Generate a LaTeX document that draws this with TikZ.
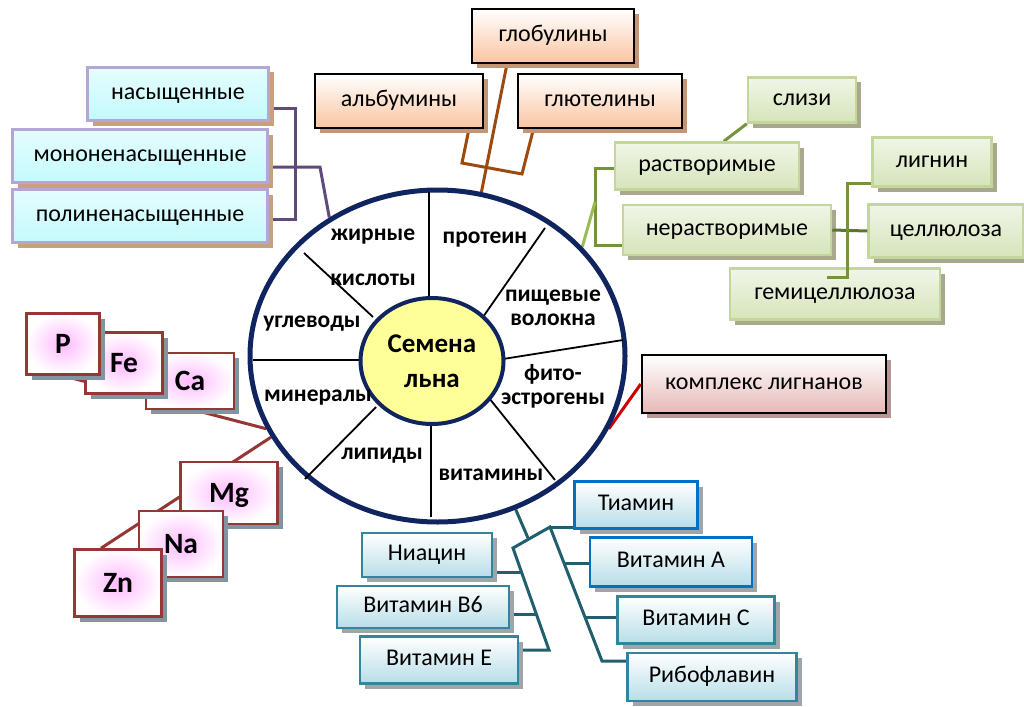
\documentclass[tikz,border=0pt]{standalone}
\usepackage{fontspec}
\setmainfont{Carlito}
\usetikzlibrary{shapes.geometric,shadows,calc,backgrounds}

\definecolor{ringblue}{RGB}{16,36,96}
\definecolor{seedyellow}{RGB}{255,255,153}
\definecolor{fatline}{RGB}{94,75,122}
\definecolor{fatborder}{RGB}{180,167,214}
\definecolor{fatfill}{RGB}{196,250,252}
\definecolor{fatshadow}{RGB}{200,160,125}
\definecolor{protline}{RGB}{156,74,16}
\definecolor{protfill}{RGB}{250,196,160}
\definecolor{protshadow}{RGB}{196,150,118}
\definecolor{fibline}{RGB}{118,146,60}
\definecolor{fibstem}{RGB}{155,187,89}
\definecolor{fibborder}{RGB}{195,214,155}
\definecolor{fibfill}{RGB}{214,228,186}
\definecolor{fibshadow}{RGB}{168,168,140}
\definecolor{minline}{RGB}{149,55,53}
\definecolor{minfill}{RGB}{255,185,255}
\definecolor{minshadow}{RGB}{127,150,160}
\definecolor{vitline}{RGB}{33,95,110}
\definecolor{vitborder}{RGB}{49,133,156}
\definecolor{vitblue}{RGB}{0,112,192}
\definecolor{vitfill}{RGB}{183,221,232}
\definecolor{vitshadow}{RGB}{160,165,170}
\definecolor{lgnfill}{RGB}{230,184,183}
\definecolor{lgnshadow}{RGB}{185,150,150}

\tikzset{
  box/.style={draw, line width=2.5pt, inner sep=0pt, text height=16.5pt, text depth=5.5pt,
    font=\fontsize{24}{26}\selectfont},
  fatbox/.style={box, draw=fatborder, top color=fatfill!45, bottom color=fatfill,
    drop shadow={fill=fatshadow, opacity=1, shadow xshift=5pt, shadow yshift=-5pt}},
  protbox/.style={box, draw=black, top color=white, bottom color=protfill,
    drop shadow={fill=protshadow, opacity=1, shadow xshift=5pt, shadow yshift=-5pt}},
  fibbox/.style={box, draw=fibborder, top color=fibfill!35, bottom color=fibfill,
    drop shadow={fill=fibshadow, opacity=1, shadow xshift=5pt, shadow yshift=-5pt}},
  minbox/.style={box, draw=minline, inner color=minfill, outer color=white,
    text height=22pt, text depth=3pt, font=\fontsize{29.5}{31}\selectfont\bfseries,
    drop shadow={fill=minshadow, opacity=1, shadow xshift=5pt, shadow yshift=-5pt}},
  vitbox/.style={box, draw=vitborder, top color=white, bottom color=vitfill,
    drop shadow={fill=vitshadow, opacity=1, shadow xshift=5pt, shadow yshift=-5pt}},
  lgnbox/.style={box, draw=black, top color=white, bottom color=lgnfill,
    drop shadow={fill=lgnshadow, opacity=1, shadow xshift=5pt, shadow yshift=-5pt}},
  sector/.style={font=\fontsize{23.5}{24}\selectfont\bfseries, align=center, inner sep=0pt},
  spoke/.style={line width=1.8pt},
  link/.style={line width=3pt}
}

\begin{document}
\begin{tikzpicture}[x=1pt,y=-1pt]
\useasboundingbox (0,0) rectangle (1024,706);

\node[ellipse, draw=ringblue, line width=5pt, minimum width=375pt, minimum height=332pt] (ring) at (437.5,356) {};
\foreach \xa/\ya/\xb/\yb in {429/298/429/192, 483/317/545/228, 503/359/623/340, 489/398/555/480,
    431/423/431/517, 376/407/305/479, 359/360/253/360, 373/317/304/253}
  \draw[spoke] (\xa,\ya) -- (\xb,\yb);
\node[ellipse, draw=ringblue, line width=4pt, fill=seedyellow, minimum width=143pt, minimum height=126pt,
  align=center, inner sep=0pt, font=\fontsize{27}{35}\selectfont\bfseries] (seed) at (432,361) {Семена\\льна};

\foreach \n/\x/\y/\t in {fat1/373/237/жирные, fat2/373/280/кислоты, prot/485/240/протеин,
    vit/491/475/витамины, lip/382/456/липиды, mins/318/398/минералы, carb/312/324/углеводы}
  \node[sector] (\n) at (\x,\y) {\t};
\node[sector] (fib) at (553,308) {пищевые\\волокна};
\node[sector] (phyto) at (553,386) {фито-\\эстрогены};

\foreach \n/\x/\y/\w/\t in {sat/178/94/181/насыщенные, mono/140/156/255/мононенасыщенные,
    poly/140/216/255/полиненасыщенные}
  \node[fatbox, minimum width=\w pt, minimum height=53pt] (\n) at (\x,\y) {\t};

\foreach \n/\x/\y/\w/\t in {glob/553/36/162/глобулины, alb/399/101/168/альбумины, glut/600/101/164/глютелины}
  \node[protbox, minimum width=\w pt, minimum height=54pt] (\n) at (\x,\y) {\t};

\foreach \n/\x/\y/\w/\h/\t in {sliz/802/100/108/45/слизи, sol/707/166/184/47/растворимые,
    insol/727/230/208/50/нерастворимые, lignin/932/162/119/49/лигнин,
    cell/946/231/155/53/целлюлоза, hemi/835/294/210/51/гемицеллюлоза}
  \node[fibbox, minimum width=\w pt, minimum height=\h pt] (\n) at (\x,\y) {\t};

\foreach \n/\x/\y/\w/\h/\t in {ca/190/381/88/56/Ca, fe/124/363/77/61/Fe, p/63/344/73/61/P,
    mg/229/493/97/62/Mg, na/181/544/84/66/Na, zn/118/583/87/67/Zn}
  \node[minbox, minimum width=\w pt, minimum height=\h pt] (\n) at (\x,\y) {\t};

\foreach \n/\x/\y/\w/\h/\c/\t in {tiamin/636/505/123/47/vitblue/Тиамин, vita/671/562/162/49/vitblue/Витамин А,
    vitc/696/620/157/47/vitborder/Витамин С, ribo/712/677/169/48/vitborder/Рибофлавин,
    niacin/427/555/130/44/vitborder/Ниацин, vitb/423/607/172/42/vitborder/Витамин В6,
    vite/439/660/158/47/vitborder/Витамин Е}
  \node[vitbox, draw=\c, minimum width=\w pt, minimum height=\h pt] (\n) at (\x,\y) {\t};

\node[lgnbox, minimum width=244pt, minimum height=58pt] (lgn) at (764,384) {комплекс лигнанов};

\coordinate (fa) at (295,109);
\coordinate (fz) at (295,219);
\coordinate (fm) at (320,167);
\coordinate (pa) at (462,163);
\coordinate (pb) at (522,174);
\coordinate (fu) at (595,168);
\coordinate (fd) at (595,245);
\coordinate (fs) at (595,202);
\coordinate (ft) at (847,183);
\coordinate (fv) at (847,277);
\coordinate (fh) at ($(hemi.north west)!0.46!(hemi.north east)$);
\coordinate (vs) at (528,538);
\coordinate (va) at (513,548);
\coordinate (vb) at (550,527);
\coordinate (vl) at (549,650);
\coordinate (vr) at (602,661);
\coordinate (vn) at ($(va)!0.245!(vl)$);
\coordinate (v6) at ($(va)!0.647!(vl)$);
\coordinate (vA) at ($(vb)!0.276!(vr)$);
\coordinate (vC) at ($(vb)!0.679!(vr)$);

\begin{scope}[on background layer]
\draw[link, fatline] (sat.east |- fa) -- (fa) -- (fz) -- (poly.east |- fz);
\draw[link, fatline] (mono.east |- fm) -- (fm) -- (ring.128);
\draw[link, protline] ($(glob.south west)!0.22!(glob.south east)$) -- (ring.75);
\draw[link, protline] ($(alb.south west)!0.91!(alb.south east)$) -- (pa) -- (pb)
  -- ($(glut.south west)!0.1!(glut.south east)$);
\draw[link, fibline] (sliz.south west) -- ($(sol.north west)!0.59!(sol.north east)$);
\draw[link, fibline] (sol.west |- fu) -- (fu) -- (fd) -- (insol.west |- fd);
\draw[link, fibstem] (ring.37) -- (fs);
\draw[link, minline] (ring.203) -- (p.south);
\draw[link, minline] (ring.206) -- ($(zn.north west)!0.31!(zn.north east)$);
\draw[link, red!80!black] (ring.-23) -- (lgn.west);
\draw[link, vitline] (ring.-63) -- (vs);
\draw[link, vitline] (vite.east |- vl) -- (vl) -- (va) -- (vb) -- (vr) -- (ribo.west |- vr);
\draw[link, vitline] (vb) -- (tiamin.west |- vb);
\draw[link, vitline] (vn) -- (niacin.east |- vn);
\draw[link, vitline] (v6) -- (vitb.east |- v6);
\draw[link, vitline] (vA) -- (vita.west |- vA);
\draw[link, vitline] (vC) -- (vitc.west |- vC);
\end{scope}

\draw[link, fibline!80!black] (insol.east) -- (cell.west);
\draw[link, fibline] (lignin.west |- ft) -- (ft) -- (fv) -- (fh |- fv);
\end{tikzpicture}
\end{document}
